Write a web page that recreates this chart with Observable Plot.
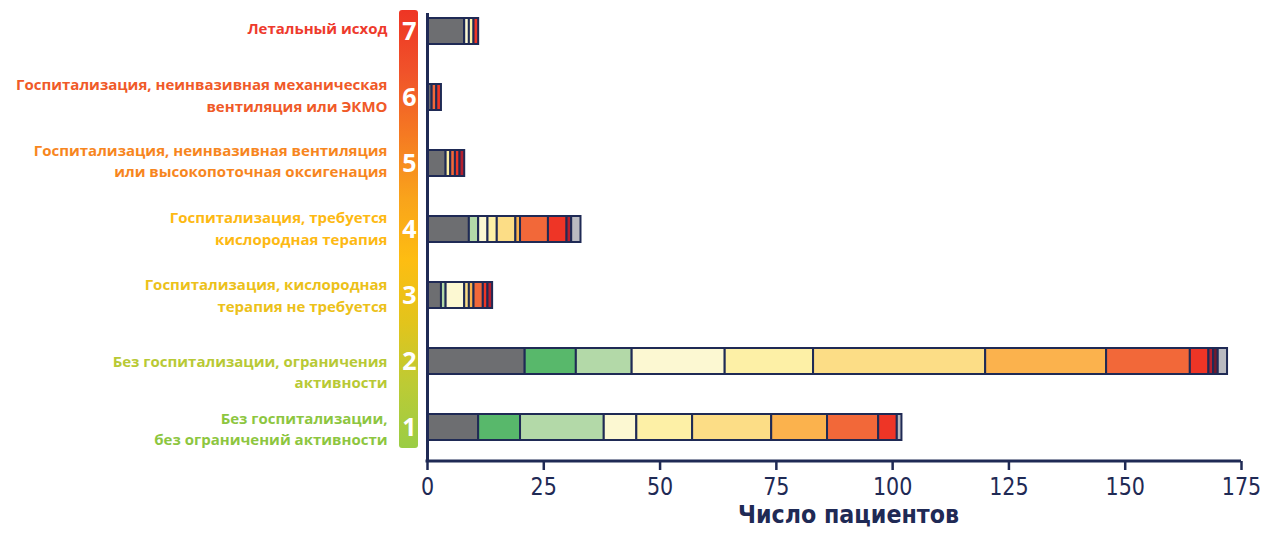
<!DOCTYPE html>
<html>
<head>
<meta charset="utf-8">
<script src="https://cdn.jsdelivr.net/npm/d3@7"></script>
<script src="https://cdn.jsdelivr.net/npm/@observablehq/plot@0.6"></script>
<style>
  html, body { margin: 0; padding: 0; background: #ffffff; }
  #chart svg { display: block; }
</style>
</head>
<body>
<div id="chart"></div>
<script>
// ---- Data ----
const scores = ["1", "2", "3", "4", "5", "6", "7"];
const scoreLabels = [
  "Без госпитализации,\nбез ограничений активности",
  "Без госпитализации, ограничения\nактивности",
  "Госпитализация, кислородная\nтерапия не требуется",
  "Госпитализация, требуется\nкислородная терапия",
  "Госпитализация, неинвазивная вентиляция\nили высокопоточная оксигенация",
  "Госпитализация, неинвазивная механическая\nвентиляция или ЭКМО",
  "Летальный исход"
];
const labelColors = ["#8dc63f", "#b8c935", "#ecc11a", "#fdb913", "#f7861e", "#f05a28", "#ee3a2c"];
const gradientColors = ["#ee3524", "#f0532a", "#f57a22", "#f9a31b", "#fdbd12", "#e2c41c", "#bccb35", "#9acd45"];

const seriesNames = ["s1", "s2", "s3", "s4", "s5", "s6", "s7", "s8", "s9", "s10", "s11", "s12"];
const seriesColors = ["#6d6e71", "#58b86b", "#b3d9a8", "#fcf8d2", "#fdf0a6", "#fcdd86",
                      "#fbb24d", "#f26839", "#ee3526", "#b41f2e", "#6e1a2f", "#b9bac0"];
// values per series, for scores 1..7
const s1  = [11, 21, 3, 9, 4, 1, 8];
const s2  = [9, 11, 0, 0, 0, 0, 0];
const s3  = [18, 12, 1, 2, 0, 0, 0];
const s4  = [7, 20, 4, 2, 0, 0, 1];
const s5  = [12, 19, 0, 2, 1, 0, 1];
const s6  = [17, 37, 1, 4, 0, 0, 0];
const s7  = [12, 26, 1, 1, 0, 0, 0];
const s8  = [11, 18, 2, 6, 1, 1, 0];
const s9  = [4, 4, 1, 4, 1, 1, 1];
const s10 = [0, 1, 1, 1, 1, 0, 0];
const s11 = [0, 1, 0, 0, 0, 0, 0];
const s12 = [1, 2, 0, 2, 0, 0, 0];
const seriesValues = [s1, s2, s3, s4, s5, s6, s7, s8, s9, s10, s11, s12];

const xTicks = [0, 25, 50, 75, 100, 125, 150, 175];
const xTitle = "Число пациентов";

// ---- Table ----
const rows = [];
seriesNames.forEach((name, si) => {
  scores.forEach((sc, ci) => {
    const v = seriesValues[si][ci];
    if (v > 0) rows.push({score: sc, series: name, value: v});
  });
});

const navy = "#1f2a55";
const narrow = "'Liberation Sans Narrow', 'DejaVu Sans Condensed', 'Open Sans', sans-serif";
const labelFont = "'Open Sans', 'Noto Sans', sans-serif";
// vertical nudges of the category labels (px)
const labelShift = {"1": 0, "2": 9, "3": -1.5, "4": -2.5, "5": -4, "6": -3.5, "7": -4};

const labelMarks = scores.map((sc, i) =>
  Plot.text([sc], {
    y: d => d,
    text: () => scoreLabels[i],
    frameAnchor: "left",
    dx: -40,
    dy: labelShift[sc],
    textAnchor: "end",
    lineHeight: 1.45,
    fill: labelColors[i],
    fontSize: 15,
    fontWeight: 700,
    fontFamily: labelFont
  })
);

const plot = Plot.plot({
  width: 1264,
  height: 533,
  marginLeft: 427,
  marginRight: 23,
  marginTop: 0,
  marginBottom: 72,
  style: {background: "#ffffff", color: navy, overflow: "visible"},
  x: {domain: [0, 175]},
  y: {type: "band", domain: scores.slice().reverse(), range: [-3, 461], paddingInner: 0.608, paddingOuter: 0.3015, axis: null},
  color: {domain: seriesNames, range: seriesColors},
  marks: [
    Plot.barX(rows, {x: "value", y: "score", fill: "series", stroke: navy, strokeWidth: 2}),
    Plot.ruleX([0], {stroke: navy, strokeWidth: 3, insetTop: 13}),
    Plot.rect([0], {x1: 0, x2: 175, fill: navy, insetTop: 459.5, insetBottom: -1.5, insetLeft: -1.5}),
    Plot.axisX({ticks: xTicks, tickSize: 9, tickPadding: 7, stroke: navy, strokeWidth: 2.5, fill: navy,
                fontSize: 25, fontFamily: narrow, label: null, tickFormat: d => String(d)}),
    Plot.text([xTitle], {frameAnchor: "bottom", dy: 61, dx: 14, text: d => d, fill: navy, fontSize: 24,
                         fontWeight: "bold", fontFamily: narrow}),
    Plot.rect([0], {x1: 0, x2: 0, insetLeft: -28, insetRight: 9, insetTop: 10, insetBottom: 13, rx: 3,
                    fill: "url(#scoreGrad)"}),
    Plot.text(scores, {y: d => d, text: d => d, frameAnchor: "left", dx: -18, textAnchor: "middle",
                       fill: "#ffffff", fontSize: 25, fontWeight: "bold", fontFamily: labelFont}),
    ...labelMarks
  ]
});

// gradient definition
const defs = d3.select(plot).insert("defs", ":first-child");
const grad = defs.append("linearGradient").attr("id", "scoreGrad")
  .attr("x1", 0).attr("x2", 0).attr("y1", 0).attr("y2", 1);
gradientColors.forEach((c, i) => {
  grad.append("stop").attr("offset", i / (gradientColors.length - 1)).attr("stop-color", c);
});

// condense the axis texts horizontally (narrow font look)
d3.select(plot).selectAll("text").each(function () {
  const fs = this.getAttribute("font-size") || (this.parentNode && this.parentNode.getAttribute("font-size"));
  const f = this.getAttribute("font-family") || (this.parentNode && this.parentNode.getAttribute("font-family")) || "";
  if (!String(f).includes("Narrow")) return;
  const s = String(fs) === "25" ? 0.92 : String(fs) === "24" ? 1.03 : null;
  if (s) {
    const t = this.getAttribute("transform") || "";
    this.setAttribute("transform", (t + ` scale(${s},1)`).trim());
  }
});

document.getElementById("chart").appendChild(plot);
</script>
</body>
</html>
